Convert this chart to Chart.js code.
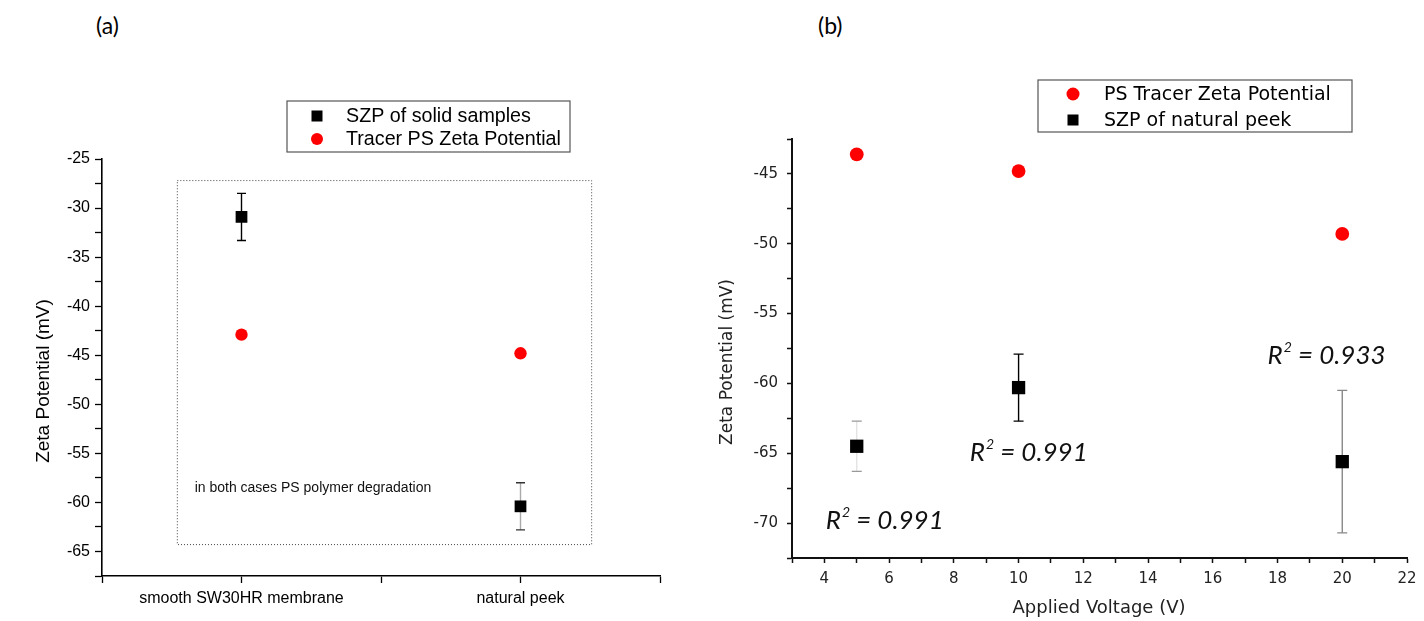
<!DOCTYPE html>
<html>
<head>
<meta charset="utf-8">
<script src="https://cdn.jsdelivr.net/npm/chart.js@4.4.1/dist/chart.umd.min.js"></script>
<style>
  html, body { margin: 0; padding: 0; background: #fff; }
  #wrap { position: relative; width: 1424px; height: 621px; overflow: hidden; }
  canvas { position: absolute; top: 0; }
  #ca { left: 0; }
  #cb { left: 680px; }
  .lbl { position: absolute; top: 11px; font: 23px Lato, sans-serif; color: #000; }
</style>
</head>
<body>
<div id="wrap">
  <div class="lbl" style="left:96px">(a)</div>
  <div class="lbl" style="left:818px">(b)</div>
  <canvas id="ca" width="680" height="621"></canvas>
  <canvas id="cb" width="744" height="621"></canvas>
</div>
<script>
// ---- panel (a) data
const categories = ['smooth SW30HR membrane', 'natural peek'];
const szpSolid = [-30.9, -60.4];
const szpSolidErr = [2.4, 2.4];
const tracerPS = [-42.9, -44.8];
const yTicksA = [-67.5, -65, -62.5, -60, -57.5, -55, -52.5, -50, -47.5, -45, -42.5, -40, -37.5, -35, -32.5, -30, -27.5, -25];
const xTicksA = [0.5, 1, 1.5, 2, 2.5];
const noteA = 'in both cases PS polymer degradation';

// ---- panel (b) data
const voltages = [5, 10, 20];
const tracerZeta = [-43.6, -44.8, -49.3];
const szpNatural = [-64.5, -60.3, -65.6];
const szpNaturalErr = [1.8, 2.4, 5.1];
const r2Values = ['0.991', '0.991', '0.933'];
const yTicksB = [-72.5, -70, -67.5, -65, -62.5, -60, -57.5, -55, -52.5, -50, -47.5, -45, -42.5];
const xTicksB = [3, 4, 5, 6, 7, 8, 9, 10, 11, 12, 13, 14, 15, 16, 17, 18, 19, 20, 21, 22];

// annotation anchors (data units)
const boxA = { x0: 0.77, x1: 2.255, y0: -27.2, y1: -64.3 };
const noteAnchor = { x: 0.832, y: -58.5 };
const r2Anchors = [{ x: 5.85, y: -69.8 }, { x: 10.3, y: -64.9 }, { x: 19.5, y: -58.0 }];

function drawErrorBars(chart, xs, ys, errs, lineColors, capColors, capHalf) {
  const { ctx, scales: { x, y } } = chart;
  ctx.save();
  ctx.lineWidth = 1.4;
  xs.forEach((xv, i) => {
    const px = x.getPixelForValue(xv);
    const top = y.getPixelForValue(ys[i] + errs[i]);
    const bot = y.getPixelForValue(ys[i] - errs[i]);
    ctx.strokeStyle = lineColors[i];
    ctx.beginPath();
    ctx.moveTo(px, top);
    ctx.lineTo(px, bot);
    ctx.stroke();
    ctx.strokeStyle = capColors[i];
    ctx.beginPath();
    ctx.moveTo(px - capHalf, top); ctx.lineTo(px + capHalf, top);
    ctx.moveTo(px - capHalf, bot); ctx.lineTo(px + capHalf, bot);
    ctx.stroke();
  });
  ctx.restore();
}

function drawMarker(ctx, style, x, y, size, color) {
  ctx.fillStyle = color;
  if (style === 'rect') {
    ctx.fillRect(x - size / 2, y - size / 2, size, size);
  } else {
    ctx.beginPath();
    ctx.arc(x, y, size / 2, 0, Math.PI * 2);
    ctx.fill();
  }
}

function drawLegend(ctx, box, items, font, markerX, textX) {
  ctx.save();
  ctx.fillStyle = '#fff';
  ctx.fillRect(box.x, box.y, box.w, box.h);
  ctx.strokeStyle = '#555';
  ctx.lineWidth = 1.2;
  ctx.strokeRect(box.x, box.y, box.w, box.h);
  ctx.font = font;
  ctx.textBaseline = 'middle';
  items.forEach(it => {
    drawMarker(ctx, it.style, markerX, it.y, it.size, it.color);
    ctx.fillStyle = '#000';
    ctx.fillText(it.text, textX, it.y + 1);
  });
  ctx.restore();
}

function drawVTitle(ctx, text, cx, cy, font, color) {
  ctx.save();
  ctx.translate(cx, cy);
  ctx.rotate(-Math.PI / 2);
  ctx.font = font;
  ctx.fillStyle = color;
  ctx.textAlign = 'center';
  ctx.textBaseline = 'middle';
  ctx.fillText(text, 0, 0);
  ctx.restore();
}

// ---------------- panel (a)
const extrasA = {
  id: 'extrasA',
  beforeDatasetsDraw(chart) {
    const { ctx, scales: { x, y } } = chart;
    // dotted frame
    ctx.save();
    ctx.setLineDash([1, 2]);
    ctx.strokeStyle = '#444';
    ctx.lineWidth = 1;
    const l = x.getPixelForValue(boxA.x0), r = x.getPixelForValue(boxA.x1);
    const t = y.getPixelForValue(boxA.y0), b = y.getPixelForValue(boxA.y1);
    ctx.strokeRect(l, t, r - l, b - t);
    ctx.restore();
    ctx.save();
    ctx.font = '14px "Liberation Sans", Arial, sans-serif';
    ctx.fillStyle = '#111';
    ctx.textBaseline = 'middle';
    ctx.fillText(noteA, x.getPixelForValue(noteAnchor.x), y.getPixelForValue(noteAnchor.y));
    ctx.restore();
    drawErrorBars(chart, [1, 2], szpSolid, szpSolidErr, ['#000', '#aaa'], ['#000', '#333'], 4.5);
  },
  afterDraw(chart) {
    const ctx = chart.ctx;
    drawVTitle(ctx, 'Zeta Potential (mV)', 44, 381, '19px "Liberation Sans", Arial, sans-serif', '#000');
    drawLegend(ctx, { x: 287, y: 101, w: 283, h: 51 }, [
      { text: 'SZP of solid samples', style: 'rect', size: 11, color: '#000', y: 116 },
      { text: 'Tracer PS Zeta Potential', style: 'circle', size: 12, color: '#ff0000', y: 139 }
    ], '19.7px "Liberation Sans", Arial, sans-serif', 317, 346);
  }
};

new Chart(document.getElementById('ca'), {
  type: 'scatter',
  data: {
    datasets: [
      {
        label: 'SZP of solid samples',
        data: szpSolid.map((v, i) => ({ x: i + 1, y: v })),
        pointStyle: 'rect',
        pointRadius: 8.3,
        backgroundColor: '#000',
        borderWidth: 0
      },
      {
        label: 'Tracer PS Zeta Potential',
        data: tracerPS.map((v, i) => ({ x: i + 1, y: v })),
        pointStyle: 'circle',
        pointRadius: 6.2,
        backgroundColor: '#ff0000',
        borderWidth: 0
      }
    ]
  },
  options: {
    responsive: false,
    animation: false,
    layout: { padding: { left: 0, right: 20, top: 159, bottom: 0 } },
    plugins: { legend: { display: false }, tooltip: { enabled: false } },
    scales: {
      x: {
        type: 'linear', min: 0.5, max: 2.5,
        afterBuildTicks: s => { s.ticks = xTicksA.map(v => ({ value: v })); },
        afterFit: s => { s.height = 45; },
        ticks: {
          callback: v => Number.isInteger(v) ? categories[v - 1] : '',
          font: { family: '"Liberation Sans", Arial, sans-serif', size: 16 },
          color: '#000', padding: 6, maxRotation: 0, autoSkip: false
        },
        grid: { drawOnChartArea: false, drawTicks: true, tickLength: 7, tickColor: '#000', tickWidth: 1.3 },
        border: { display: true, color: '#000', width: 1.6 }
      },
      y: {
        min: -67.5, max: -25,
        afterBuildTicks: s => { s.ticks = yTicksA.map(v => ({ value: v })); },
        afterFit: s => { s.width = 102; },
        ticks: {
          callback: v => v % 5 === 0 ? String(v) : '',
          font: { family: '"Liberation Sans", Arial, sans-serif', size: 16 },
          color: '#000', padding: 5, autoSkip: false
        },
        grid: { drawOnChartArea: false, drawTicks: true, tickLength: 7, tickColor: '#000', tickWidth: 1.3 },
        border: { display: true, color: '#000', width: 1.6 }
      }
    }
  },
  plugins: [extrasA]
});

// ---------------- panel (b)
const extrasB = {
  id: 'extrasB',
  beforeDatasetsDraw(chart) {
    drawErrorBars(chart, voltages, szpNatural, szpNaturalErr, ['#e4e4e4', '#000', '#888'], ['#999', '#000', '#888'], 5);
  },
  afterDraw(chart) {
    const { ctx, scales: { x, y } } = chart;
    drawVTitle(ctx, 'Zeta Potential (mV)', 48, 362, '17px "DejaVu Sans", sans-serif', '#222');
    ctx.save();
    ctx.font = '18px "DejaVu Sans", sans-serif';
    ctx.fillStyle = '#222';
    ctx.textAlign = 'center';
    ctx.textBaseline = 'middle';
    ctx.fillText('Applied Voltage (V)', 419, 608);
    ctx.restore();

    // R^2 labels
    ctx.save();
    ctx.fillStyle = '#111';
    ctx.textBaseline = 'alphabetic';
    r2Values.forEach((val, i) => {
      const cx = x.getPixelForValue(r2Anchors[i].x);
      const cy = y.getPixelForValue(r2Anchors[i].y) + 9;
      const big = 'italic 26px Lato, sans-serif';
      const small = 'italic 14px Lato, sans-serif';
      const rest = ' = ' + val;
      ctx.font = big;
      const wR = ctx.measureText('R').width;
      const wRest = ctx.measureText(rest).width;
      ctx.font = small;
      const w2 = ctx.measureText('2').width;
      let px = cx - (wR + w2 + wRest) / 2;
      ctx.font = big;
      ctx.fillText('R', px, cy);
      px += wR + 1;
      ctx.font = small;
      ctx.fillText('2', px, cy - 12);
      px += w2;
      ctx.font = big;
      ctx.fillText(rest, px, cy);
    });
    ctx.restore();

    drawLegend(ctx, { x: 358, y: 80, w: 314, h: 52 }, [
      { text: 'PS Tracer Zeta Potential', style: 'circle', size: 13, color: '#ff0000', y: 94 },
      { text: 'SZP of natural peek', style: 'rect', size: 11, color: '#000', y: 120 }
    ], '19px "DejaVu Sans", sans-serif', 393, 424);
  }
};

new Chart(document.getElementById('cb'), {
  type: 'scatter',
  data: {
    datasets: [
      {
        label: 'PS Tracer Zeta Potential',
        data: voltages.map((v, i) => ({ x: v, y: tracerZeta[i] })),
        pointStyle: 'circle',
        pointRadius: 6.9,
        backgroundColor: '#ff0000',
        borderWidth: 0
      },
      {
        label: 'SZP of natural peek',
        data: voltages.map((v, i) => ({ x: v, y: szpNatural[i] })),
        pointStyle: 'rect',
        pointRadius: 9.4,
        backgroundColor: '#000',
        borderWidth: 0
      }
    ]
  },
  options: {
    responsive: false,
    animation: false,
    layout: { padding: { left: 0, right: 17, top: 139, bottom: 0 } },
    plugins: { legend: { display: false }, tooltip: { enabled: false } },
    scales: {
      x: {
        type: 'linear', min: 3, max: 22,
        afterBuildTicks: s => { s.ticks = xTicksB.map(v => ({ value: v })); },
        afterFit: s => { s.height = 63; },
        ticks: {
          callback: v => v % 2 === 0 ? String(v) : '',
          font: { family: '"DejaVu Sans", sans-serif', size: 15 },
          color: '#222', padding: 7, maxRotation: 0, autoSkip: false
        },
        grid: { drawOnChartArea: false, drawTicks: true, tickLength: 5, tickColor: '#111', tickWidth: 1.5 },
        border: { display: true, color: '#111', width: 2 }
      },
      y: {
        min: -72.5, max: -42.5,
        afterBuildTicks: s => { s.ticks = yTicksB.map(v => ({ value: v })); },
        afterFit: s => { s.width = 112; },
        ticks: {
          callback: v => v % 5 === 0 ? String(v) : '',
          font: { family: '"DejaVu Sans", sans-serif', size: 15 },
          color: '#222', padding: 9, autoSkip: false
        },
        grid: { drawOnChartArea: false, drawTicks: true, tickLength: 5, tickColor: '#111', tickWidth: 1.5 },
        border: { display: true, color: '#111', width: 2 }
      }
    }
  },
  plugins: [extrasB]
});
</script>
</body>
</html>
